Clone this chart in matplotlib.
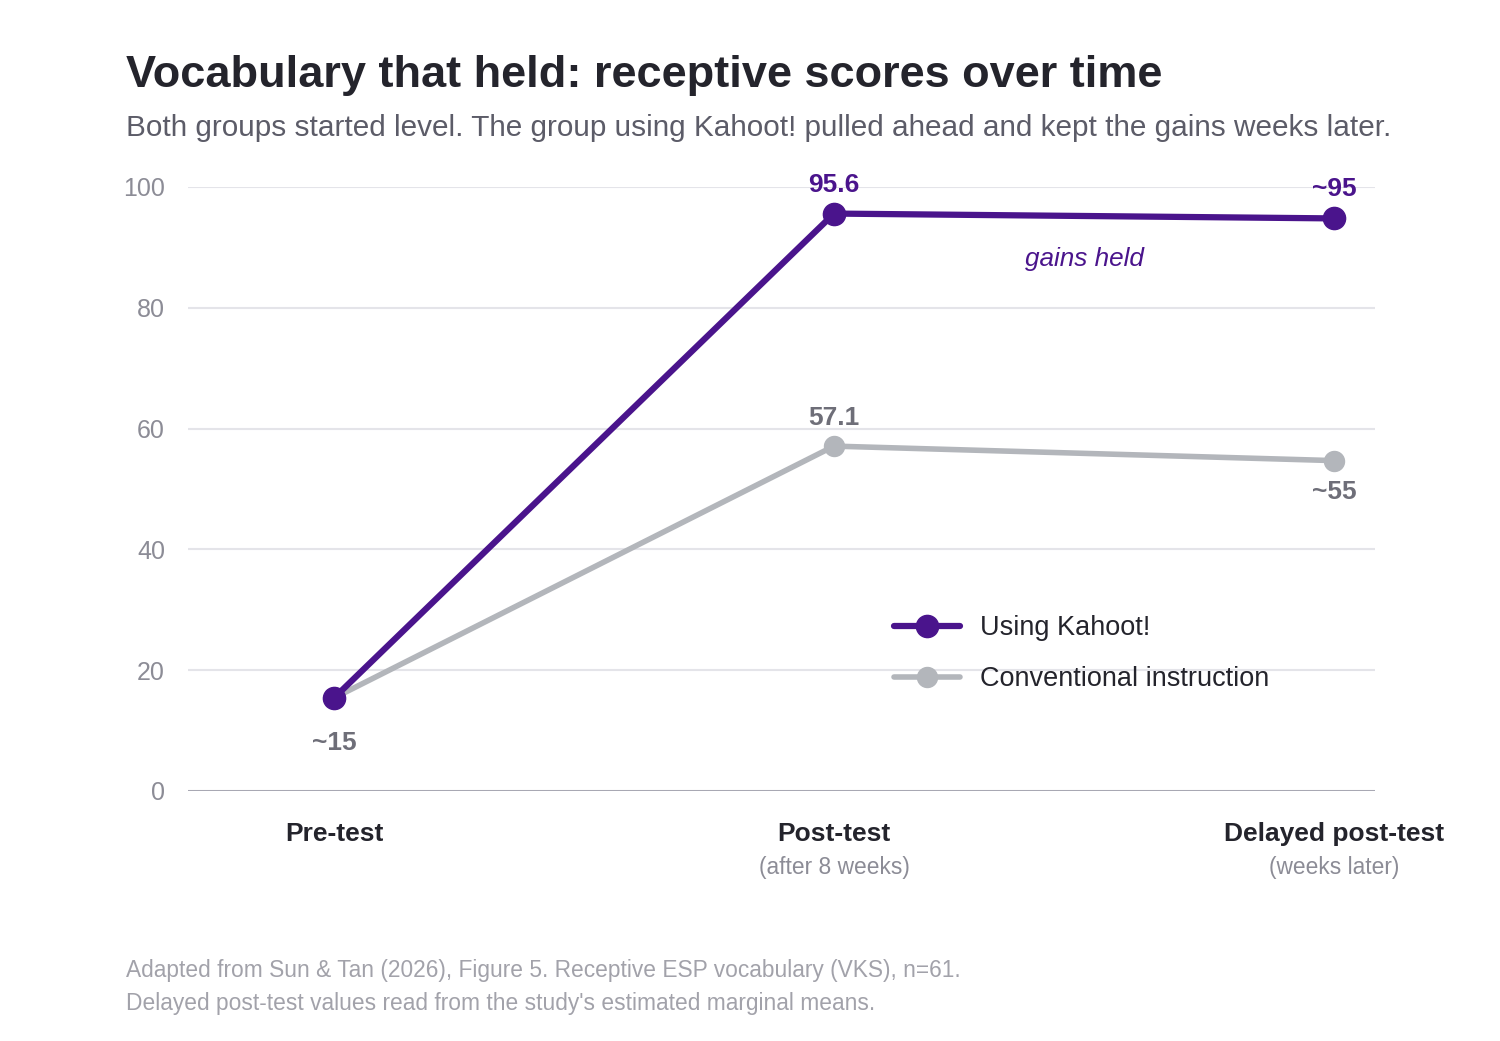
import matplotlib
matplotlib.use("Agg")
import matplotlib.pyplot as plt
from matplotlib.transforms import blended_transform_factory

plt.rcParams['font.family'] = ['Liberation Sans', 'DejaVu Sans']

# ---- data ----
stages = ["Pre-test", "Post-test", "Delayed post-test"]
stage_notes = ["", "(after 8 weeks)", "(weeks later)"]
kahoot = [15.4, 95.6, 94.8]
conventional = [15.4, 57.1, 54.7]
kahoot_labels = ["", "95.6", "~95"]
conv_labels = ["~15", "57.1", "~55"]
yticks = [0, 20, 40, 60, 80, 100]

PURPLE = "#4a148c"
GRAY = "#b3b6bb"
LABEL_GRAY = "#6e6e78"
TITLE = "#24242c"
SUB = "#5c5c68"
TICK = "#8c8c96"
FOOT = "#a2a2aa"

W, H = 1500, 1041
fig = plt.figure(figsize=(W / 100, H / 100), dpi=100)
ax = fig.add_axes([188 / W, 1 - 791 / H, (1375 - 188) / W, (791 - 187) / H])

x = list(range(len(stages)))
ax.set_xlim(-0.292, 2.082)
ax.set_ylim(0, 100)

for yv in yticks[1:]:
    ax.axhline(yv, color="#e4e4e9", lw=1.5, zorder=0)
ax.axhline(0, color="#a8a8b3", lw=2.2, zorder=1)

ax.plot(x, conventional, color=GRAY, lw=4.0, marker="o", ms=14.4,
        solid_capstyle="round", zorder=3, label="Conventional instruction", clip_on=False)
ax.plot(x, kahoot, color=PURPLE, lw=4.5, marker="o", ms=16,
        solid_capstyle="round", zorder=4, label="Using Kahoot!", clip_on=False)

for xi, yv, lab in zip(x, kahoot, kahoot_labels):
    if lab:
        ax.annotate(lab, (xi, yv), xytext=(0, 22), textcoords="offset pixels",
                    ha="center", va="baseline", fontsize=19, fontweight="bold", color=PURPLE)
offs = [-52, 21, -38]
for xi, yv, lab, o in zip(x, conventional, conv_labels, offs):
    ax.annotate(lab, (xi, yv), xytext=(0, o), textcoords="offset pixels",
                ha="center", va="baseline", fontsize=19, fontweight="bold", color=LABEL_GRAY)

ax.text(1.5, 1 - 266 / H, "gains held", transform=blended_transform_factory(ax.transData, fig.transFigure),
        ha="center", va="baseline", fontsize=18.8, style="italic", color=PURPLE)

for s in ax.spines.values():
    s.set_visible(False)
ax.set_xticks([])
ax.set_yticks(yticks)
ax.set_yticklabels([str(v) for v in yticks])
ax.tick_params(axis="y", length=0, pad=16.5, labelsize=18, labelcolor=TICK)

tr = blended_transform_factory(ax.transData, fig.transFigure)
for xi, s, n in zip(x, stages, stage_notes):
    ax.text(xi, 1 - 841 / H, s, transform=tr, ha="center", va="baseline",
            fontsize=19, fontweight="bold", color=TITLE)
    if n:
        ax.text(xi, 1 - 874 / H, n, transform=tr, ha="center", va="baseline",
                fontsize=16.4, color=TICK)

h, l = ax.get_legend_handles_labels()
leg = ax.legend(h[::-1], l[::-1], loc="upper left", bbox_to_anchor=(894 / W, 1 - 615 / H),
                bbox_transform=fig.transFigure, frameon=False, fontsize=19.5,
                handlelength=2.45, handletextpad=0.72, labelspacing=0.93, borderaxespad=0,
                borderpad=0, labelcolor=TITLE)

fig.text(126 / W, 1 - 87 / H, "Vocabulary that held: receptive scores over time",
         fontsize=32.5, fontweight="bold", color=TITLE, va="baseline", ha="left")
fig.text(126 / W, 1 - 136 / H,
         "Both groups started level. The group using Kahoot! pulled ahead and kept the gains weeks later.",
         fontsize=21.4, color=SUB, va="baseline", ha="left")
fig.text(126 / W, 1 - 977 / H,
         "Adapted from Sun & Tan (2026), Figure 5. Receptive ESP vocabulary (VKS), n=61.",
         fontsize=16.4, color=FOOT, va="baseline", ha="left")
fig.text(126 / W, 1 - 1010 / H,
         "Delayed post-test values read from the study's estimated marginal means.",
         fontsize=16.4, color=FOOT, va="baseline", ha="left")

fig.savefig("out.png", dpi=100, facecolor="white")
